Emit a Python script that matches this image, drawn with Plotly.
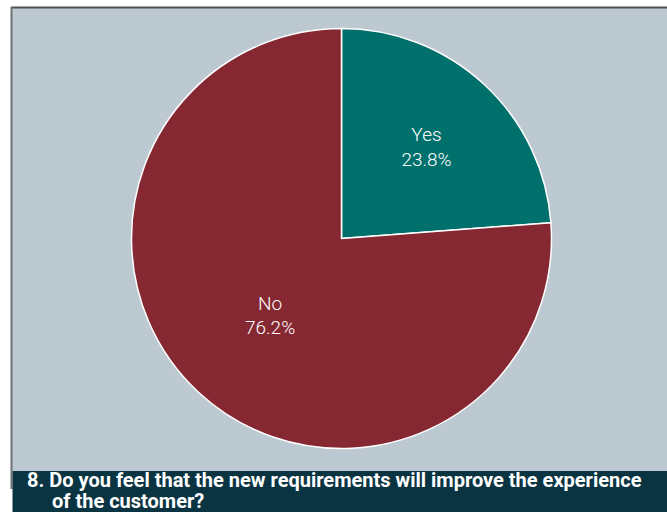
import plotly.graph_objects as go

# Survey answers
answers = ["Yes", "No"]
shares = [23.8, 76.2]
answer_colors = ["#00706d", "#862832"]

question = "8. Do you feel that the new requirements will improve the experience"
question_cont = "of the customer?"

W, H = 667, 512


def px_x(x):
    return x / W


def px_y(y):
    return 1 - y / H


cx, cy, r = 341.5, 238.5, 210

fig = go.Figure(
    go.Pie(
        labels=answers,
        values=shares,
        marker=dict(colors=answer_colors, line=dict(color="white", width=1.5)),
        sort=False,
        direction="clockwise",
        rotation=0,
        textinfo="label+percent",
        texttemplate="%{label}<br>%{percent:.1%}",
        textposition="inside",
        insidetextorientation="horizontal",
        textfont=dict(family="Roboto, sans-serif", size=19, color="white", weight=300),
        showlegend=False,
        hoverinfo="label+percent",
        domain=dict(x=[px_x(cx - r), px_x(cx + r)], y=[px_y(cy + r), px_y(cy - r)]),
    )
)

shapes = [
    # panel background
    dict(type="rect", xref="paper", yref="paper", layer="below",
         x0=px_x(11), x1=1, y0=px_y(471), y1=px_y(7),
         fillcolor="#bdc9d0", line=dict(width=0)),
    # top edge of the panel
    dict(type="line", xref="paper", yref="paper", layer="below",
         x0=px_x(11), x1=1, y0=px_y(7.5), y1=px_y(7.5),
         line=dict(color="#4d4f52", width=2)),
    # left edge of the panel
    dict(type="line", xref="paper", yref="paper", layer="below",
         x0=px_x(11.5), x1=px_x(11.5), y0=px_y(489), y1=px_y(7),
         line=dict(color="#6f7173", width=2)),
    # question band
    dict(type="rect", xref="paper", yref="paper", layer="below",
         x0=px_x(12.5), x1=1, y0=0, y1=px_y(471),
         fillcolor="#0b3442", line=dict(width=0)),
]

title_font = dict(family="Roboto, sans-serif", size=20, color="white")

annotations = [
    dict(text="<b>" + question + "</b>", xref="paper", yref="paper",
         x=px_x(25), y=px_y(479.5), xanchor="left", yanchor="middle",
         showarrow=False, font=title_font),
    dict(text="<b>" + question_cont + "</b>", xref="paper", yref="paper",
         x=px_x(50), y=px_y(500.5), xanchor="left", yanchor="middle",
         showarrow=False, font=title_font),
]

fig.update_layout(
    width=W, height=H,
    margin=dict(l=0, r=0, t=0, b=0),
    paper_bgcolor="white",
    shapes=shapes,
    annotations=annotations,
)

fig.write_html("out.html")
